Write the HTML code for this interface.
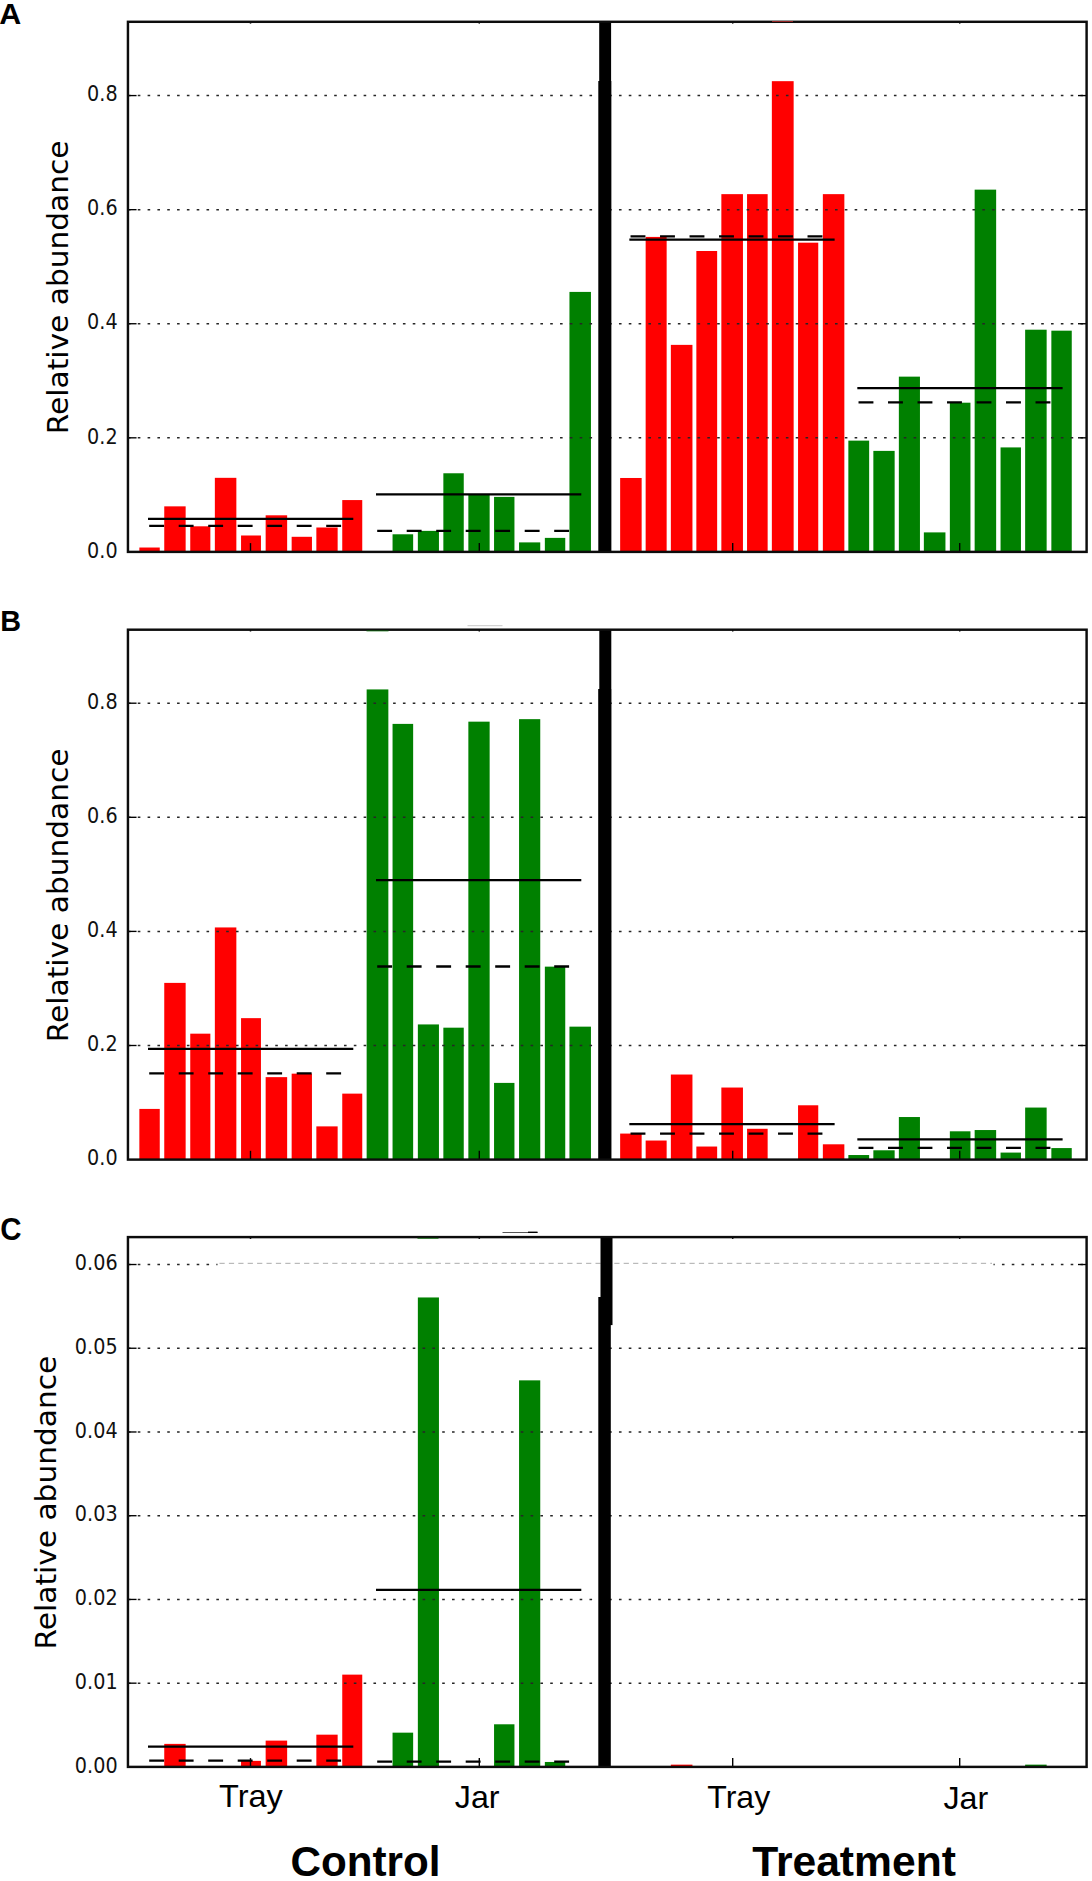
<!DOCTYPE html>
<html lang="en"><head><meta charset="utf-8"><title>Relative abundance: Control vs Treatment</title>
<style>
html,body{margin:0;padding:0;background:#fff}
body{width:1092px;height:1881px;overflow:hidden}
svg{display:block}
.tk{font-family:"DejaVu Sans","Liberation Sans",sans-serif;font-size:19.2px;fill:#111}
.yl{font-family:"DejaVu Sans","Liberation Sans",sans-serif;font-size:28.9px;fill:#000}
.pl{font-family:"Liberation Sans",Arial,sans-serif;font-weight:bold;font-size:28.8px;fill:#000}
.xl{font-family:"Liberation Sans",Arial,sans-serif;font-size:30.7px;fill:#000}
.gl{font-family:"Liberation Sans",Arial,sans-serif;font-weight:bold;font-size:42px;fill:#000}
</style></head><body>
<svg width="1092" height="1881" viewBox="0 0 1092 1881">
<rect width="1092" height="1881" fill="#fff"/>
<g>
<rect x="139.35" y="547.52" width="20.40" height="4.38" fill="#ff0000"/>
<rect x="164.25" y="506.35" width="21.40" height="45.55" fill="#ff0000"/>
<rect x="190.25" y="526.31" width="20.10" height="25.59" fill="#ff0000"/>
<rect x="214.85" y="477.83" width="21.50" height="74.07" fill="#ff0000"/>
<rect x="241.05" y="535.49" width="19.90" height="16.41" fill="#ff0000"/>
<rect x="265.65" y="515.30" width="21.50" height="36.60" fill="#ff0000"/>
<rect x="291.65" y="536.80" width="20.30" height="15.10" fill="#ff0000"/>
<rect x="316.35" y="527.50" width="21.30" height="24.40" fill="#ff0000"/>
<rect x="342.25" y="500.07" width="20.00" height="51.83" fill="#ff0000"/>
<rect x="392.55" y="534.29" width="20.60" height="17.61" fill="#008000"/>
<rect x="417.85" y="530.87" width="21.10" height="21.03" fill="#008000"/>
<rect x="443.35" y="473.27" width="20.40" height="78.63" fill="#008000"/>
<rect x="468.35" y="494.37" width="21.30" height="57.53" fill="#008000"/>
<rect x="494.05" y="496.88" width="20.40" height="55.02" fill="#008000"/>
<rect x="519.05" y="542.39" width="21.20" height="9.51" fill="#008000"/>
<rect x="544.85" y="537.88" width="20.40" height="14.02" fill="#008000"/>
<rect x="569.45" y="291.91" width="21.50" height="259.99" fill="#008000"/>
<rect x="620.15" y="477.98" width="21.50" height="73.92" fill="#ff0000"/>
<rect x="645.65" y="236.92" width="21.00" height="314.98" fill="#ff0000"/>
<rect x="670.85" y="344.87" width="21.60" height="207.03" fill="#ff0000"/>
<rect x="696.35" y="251.00" width="20.80" height="300.90" fill="#ff0000"/>
<rect x="721.35" y="194.14" width="21.60" height="357.76" fill="#ff0000"/>
<rect x="747.05" y="194.14" width="20.60" height="357.76" fill="#ff0000"/>
<rect x="771.85" y="81.17" width="21.80" height="470.73" fill="#ff0000"/>
<rect x="798.05" y="242.68" width="20.20" height="309.22" fill="#ff0000"/>
<rect x="822.85" y="194.14" width="21.50" height="357.76" fill="#ff0000"/>
<rect x="848.35" y="440.63" width="20.80" height="111.27" fill="#008000"/>
<rect x="873.35" y="450.89" width="21.30" height="101.01" fill="#008000"/>
<rect x="898.85" y="376.64" width="21.10" height="175.26" fill="#008000"/>
<rect x="923.85" y="532.39" width="21.60" height="19.51" fill="#008000"/>
<rect x="949.85" y="402.70" width="20.60" height="149.20" fill="#008000"/>
<rect x="974.65" y="189.64" width="21.50" height="362.26" fill="#008000"/>
<rect x="1000.55" y="447.41" width="20.40" height="104.49" fill="#008000"/>
<rect x="1025.15" y="329.70" width="21.50" height="222.20" fill="#008000"/>
<rect x="1051.35" y="330.67" width="20.40" height="221.23" fill="#008000"/>
<line x1="148.00" y1="518.87" x2="353.30" y2="518.87" stroke="#000" stroke-width="2.35"/>
<line x1="149.20" y1="525.89" x2="353.30" y2="525.89" stroke="#000" stroke-width="2.35" stroke-dasharray="14.9 14.6"/>
<line x1="376.00" y1="494.41" x2="581.30" y2="494.41" stroke="#000" stroke-width="2.35"/>
<line x1="377.20" y1="530.91" x2="581.30" y2="530.91" stroke="#000" stroke-width="2.35" stroke-dasharray="14.9 14.6"/>
<line x1="629.33" y1="239.65" x2="834.63" y2="239.65" stroke="#000" stroke-width="2.35"/>
<line x1="630.53" y1="236.40" x2="834.63" y2="236.40" stroke="#000" stroke-width="2.35" stroke-dasharray="14.9 14.6"/>
<line x1="857.32" y1="388.16" x2="1062.62" y2="388.16" stroke="#000" stroke-width="2.35"/>
<line x1="858.52" y1="402.42" x2="1062.62" y2="402.42" stroke="#000" stroke-width="2.35" stroke-dasharray="14.9 14.6"/>
<line x1="127.95" y1="437.82" x2="1086.6" y2="437.82" stroke="#262626" stroke-width="1.5" stroke-dasharray="2.6 7.22"/>
<line x1="127.95" y1="323.74" x2="1086.6" y2="323.74" stroke="#262626" stroke-width="1.5" stroke-dasharray="2.6 7.22"/>
<line x1="127.95" y1="209.66" x2="1086.6" y2="209.66" stroke="#262626" stroke-width="1.5" stroke-dasharray="2.6 7.22"/>
<line x1="127.95" y1="95.58" x2="1086.6" y2="95.58" stroke="#262626" stroke-width="1.5" stroke-dasharray="2.6 7.22"/>
<rect x="599.2" y="21.8" width="11.9" height="530.10" fill="#000"/>
<rect x="598.3" y="81" width="13" height="470.90" fill="#000"/>
<line x1="127.95" y1="437.82" x2="136.55" y2="437.82" stroke="#000" stroke-width="1.35"/>
<line x1="1086.6" y1="437.82" x2="1078.0" y2="437.82" stroke="#000" stroke-width="1.35"/>
<line x1="127.95" y1="323.74" x2="136.55" y2="323.74" stroke="#000" stroke-width="1.35"/>
<line x1="1086.6" y1="323.74" x2="1078.0" y2="323.74" stroke="#000" stroke-width="1.35"/>
<line x1="127.95" y1="209.66" x2="136.55" y2="209.66" stroke="#000" stroke-width="1.35"/>
<line x1="1086.6" y1="209.66" x2="1078.0" y2="209.66" stroke="#000" stroke-width="1.35"/>
<line x1="127.95" y1="95.58" x2="136.55" y2="95.58" stroke="#000" stroke-width="1.35"/>
<line x1="1086.6" y1="95.58" x2="1078.0" y2="95.58" stroke="#000" stroke-width="1.35"/>
<line x1="250.5" y1="551.9" x2="250.5" y2="543.1" stroke="#000" stroke-width="1.4"/>
<line x1="250.5" y1="21.8" x2="250.5" y2="23.6" stroke="#000" stroke-width="1.5"/>
<line x1="479.3" y1="551.9" x2="479.3" y2="543.1" stroke="#000" stroke-width="1.4"/>
<line x1="479.3" y1="21.8" x2="479.3" y2="23.6" stroke="#000" stroke-width="1.5"/>
<line x1="732.7" y1="551.9" x2="732.7" y2="543.1" stroke="#000" stroke-width="1.4"/>
<line x1="732.7" y1="21.8" x2="732.7" y2="23.6" stroke="#000" stroke-width="1.5"/>
<line x1="959.7" y1="551.9" x2="959.7" y2="543.1" stroke="#000" stroke-width="1.4"/>
<line x1="959.7" y1="21.8" x2="959.7" y2="23.6" stroke="#000" stroke-width="1.5"/>
<rect x="127.95" y="21.8" width="958.6499999999999" height="530.10" fill="none" stroke="#0c0c0c" stroke-width="2.45"/>
<text transform="translate(117.6,549.60) scale(1,1.15)" x="0" y="7.0" text-anchor="end" class="tk">0.0</text>
<text transform="translate(117.6,435.52) scale(1,1.15)" x="0" y="7.0" text-anchor="end" class="tk">0.2</text>
<text transform="translate(117.6,321.44) scale(1,1.15)" x="0" y="7.0" text-anchor="end" class="tk">0.4</text>
<text transform="translate(117.6,207.36) scale(1,1.15)" x="0" y="7.0" text-anchor="end" class="tk">0.6</text>
<text transform="translate(117.6,93.28) scale(1,1.15)" x="0" y="7.0" text-anchor="end" class="tk">0.8</text>
<text transform="translate(68.3,287.3) rotate(-90) scale(1.026,1)" text-anchor="middle" class="yl">Relative abundance</text>
<text transform="translate(-0.8,23.9) scale(1.057,1.027)" class="pl">A</text>
</g>
<g>
<rect x="139.35" y="1108.92" width="20.40" height="50.68" fill="#ff0000"/>
<rect x="164.25" y="982.89" width="21.40" height="176.71" fill="#ff0000"/>
<rect x="190.25" y="1033.67" width="20.10" height="125.93" fill="#ff0000"/>
<rect x="214.85" y="927.44" width="21.50" height="232.16" fill="#ff0000"/>
<rect x="241.05" y="1018.15" width="19.90" height="141.45" fill="#ff0000"/>
<rect x="265.65" y="1077.14" width="21.50" height="82.46" fill="#ff0000"/>
<rect x="291.65" y="1073.66" width="20.30" height="85.94" fill="#ff0000"/>
<rect x="316.35" y="1126.38" width="21.30" height="33.22" fill="#ff0000"/>
<rect x="342.25" y="1093.63" width="20.00" height="65.97" fill="#ff0000"/>
<rect x="366.65" y="689.43" width="21.70" height="470.17" fill="#008000"/>
<rect x="392.55" y="723.89" width="20.60" height="435.71" fill="#008000"/>
<rect x="417.85" y="1024.43" width="21.10" height="135.17" fill="#008000"/>
<rect x="443.35" y="1027.68" width="20.40" height="131.92" fill="#008000"/>
<rect x="468.35" y="721.66" width="21.30" height="437.94" fill="#008000"/>
<rect x="494.05" y="1082.90" width="20.40" height="76.70" fill="#008000"/>
<rect x="519.05" y="719.15" width="21.20" height="440.45" fill="#008000"/>
<rect x="544.85" y="966.64" width="20.40" height="192.96" fill="#008000"/>
<rect x="569.45" y="1026.65" width="21.50" height="132.95" fill="#008000"/>
<rect x="620.15" y="1133.58" width="21.50" height="26.02" fill="#ff0000"/>
<rect x="645.65" y="1140.54" width="21.00" height="19.06" fill="#ff0000"/>
<rect x="670.85" y="1074.53" width="21.60" height="85.07" fill="#ff0000"/>
<rect x="696.35" y="1146.53" width="20.80" height="13.07" fill="#ff0000"/>
<rect x="721.35" y="1087.54" width="21.60" height="72.06" fill="#ff0000"/>
<rect x="747.05" y="1128.79" width="20.60" height="30.81" fill="#ff0000"/>
<rect x="798.05" y="1105.28" width="20.20" height="54.32" fill="#ff0000"/>
<rect x="822.85" y="1144.30" width="21.50" height="15.30" fill="#ff0000"/>
<rect x="848.35" y="1155.03" width="20.80" height="4.57" fill="#008000"/>
<rect x="873.35" y="1150.29" width="21.30" height="9.31" fill="#008000"/>
<rect x="898.85" y="1117.03" width="21.10" height="42.57" fill="#008000"/>
<rect x="949.85" y="1131.30" width="20.60" height="28.30" fill="#008000"/>
<rect x="974.65" y="1130.04" width="21.50" height="29.56" fill="#008000"/>
<rect x="1000.55" y="1152.58" width="20.40" height="7.02" fill="#008000"/>
<rect x="1025.15" y="1107.56" width="21.50" height="52.04" fill="#008000"/>
<rect x="1051.35" y="1148.07" width="20.40" height="11.53" fill="#008000"/>
<line x1="148.00" y1="1048.90" x2="353.30" y2="1048.90" stroke="#000" stroke-width="2.35"/>
<line x1="149.20" y1="1073.38" x2="353.30" y2="1073.38" stroke="#000" stroke-width="2.35" stroke-dasharray="14.9 14.6"/>
<line x1="376.00" y1="880.15" x2="581.30" y2="880.15" stroke="#000" stroke-width="2.35"/>
<line x1="377.20" y1="966.52" x2="581.30" y2="966.52" stroke="#000" stroke-width="2.35" stroke-dasharray="14.9 14.6"/>
<line x1="629.33" y1="1124.15" x2="834.63" y2="1124.15" stroke="#000" stroke-width="2.35"/>
<line x1="630.53" y1="1133.68" x2="834.63" y2="1133.68" stroke="#000" stroke-width="2.35" stroke-dasharray="14.9 14.6"/>
<line x1="857.32" y1="1139.38" x2="1062.62" y2="1139.38" stroke="#000" stroke-width="2.35"/>
<line x1="858.52" y1="1147.94" x2="1062.62" y2="1147.94" stroke="#000" stroke-width="2.35" stroke-dasharray="14.9 14.6"/>
<line x1="127.95" y1="1045.50" x2="1086.6" y2="1045.50" stroke="#262626" stroke-width="1.5" stroke-dasharray="2.6 7.22"/>
<line x1="127.95" y1="931.40" x2="1086.6" y2="931.40" stroke="#262626" stroke-width="1.5" stroke-dasharray="2.6 7.22"/>
<line x1="127.95" y1="817.30" x2="1086.6" y2="817.30" stroke="#262626" stroke-width="1.5" stroke-dasharray="2.6 7.22"/>
<line x1="127.95" y1="703.20" x2="1086.6" y2="703.20" stroke="#262626" stroke-width="1.5" stroke-dasharray="2.6 7.22"/>
<rect x="599.3" y="629.7" width="12" height="529.90" fill="#000"/>
<rect x="598.2" y="689" width="13" height="470.60" fill="#000"/>
<line x1="127.95" y1="1045.50" x2="136.55" y2="1045.50" stroke="#000" stroke-width="1.35"/>
<line x1="1086.6" y1="1045.50" x2="1078.0" y2="1045.50" stroke="#000" stroke-width="1.35"/>
<line x1="127.95" y1="931.40" x2="136.55" y2="931.40" stroke="#000" stroke-width="1.35"/>
<line x1="1086.6" y1="931.40" x2="1078.0" y2="931.40" stroke="#000" stroke-width="1.35"/>
<line x1="127.95" y1="817.30" x2="136.55" y2="817.30" stroke="#000" stroke-width="1.35"/>
<line x1="1086.6" y1="817.30" x2="1078.0" y2="817.30" stroke="#000" stroke-width="1.35"/>
<line x1="127.95" y1="703.20" x2="136.55" y2="703.20" stroke="#000" stroke-width="1.35"/>
<line x1="1086.6" y1="703.20" x2="1078.0" y2="703.20" stroke="#000" stroke-width="1.35"/>
<line x1="250.5" y1="1159.6" x2="250.5" y2="1150.8" stroke="#000" stroke-width="1.4"/>
<line x1="250.5" y1="629.7" x2="250.5" y2="631.5" stroke="#000" stroke-width="1.5"/>
<line x1="479.3" y1="1159.6" x2="479.3" y2="1150.8" stroke="#000" stroke-width="1.4"/>
<line x1="479.3" y1="629.7" x2="479.3" y2="631.5" stroke="#000" stroke-width="1.5"/>
<line x1="732.7" y1="1159.6" x2="732.7" y2="1150.8" stroke="#000" stroke-width="1.4"/>
<line x1="732.7" y1="629.7" x2="732.7" y2="631.5" stroke="#000" stroke-width="1.5"/>
<line x1="959.7" y1="1159.6" x2="959.7" y2="1150.8" stroke="#000" stroke-width="1.4"/>
<line x1="959.7" y1="629.7" x2="959.7" y2="631.5" stroke="#000" stroke-width="1.5"/>
<rect x="127.95" y="629.7" width="958.6499999999999" height="529.90" fill="none" stroke="#0c0c0c" stroke-width="2.45"/>
<text transform="translate(117.6,1157.30) scale(1,1.15)" x="0" y="7.0" text-anchor="end" class="tk">0.0</text>
<text transform="translate(117.6,1043.20) scale(1,1.15)" x="0" y="7.0" text-anchor="end" class="tk">0.2</text>
<text transform="translate(117.6,929.10) scale(1,1.15)" x="0" y="7.0" text-anchor="end" class="tk">0.4</text>
<text transform="translate(117.6,815.00) scale(1,1.15)" x="0" y="7.0" text-anchor="end" class="tk">0.6</text>
<text transform="translate(117.6,700.90) scale(1,1.15)" x="0" y="7.0" text-anchor="end" class="tk">0.8</text>
<text transform="translate(68.3,895.3) rotate(-90) scale(1.026,1)" text-anchor="middle" class="yl">Relative abundance</text>
<text transform="translate(0.15,631.0) scale(1.0,1.035)" class="pl">B</text>
</g>
<g>
<rect x="164.25" y="1743.88" width="21.40" height="23.02" fill="#ff0000"/>
<rect x="241.05" y="1760.88" width="19.90" height="6.02" fill="#ff0000"/>
<rect x="265.65" y="1740.61" width="21.50" height="26.29" fill="#ff0000"/>
<rect x="316.35" y="1734.67" width="21.30" height="32.23" fill="#ff0000"/>
<rect x="342.25" y="1674.63" width="20.00" height="92.27" fill="#ff0000"/>
<rect x="392.55" y="1732.66" width="20.60" height="34.24" fill="#008000"/>
<rect x="417.85" y="1297.46" width="21.10" height="469.44" fill="#008000"/>
<rect x="494.05" y="1724.29" width="20.40" height="42.62" fill="#008000"/>
<rect x="519.05" y="1380.35" width="21.20" height="386.55" fill="#008000"/>
<rect x="544.85" y="1761.96" width="20.40" height="4.94" fill="#008000"/>
<rect x="670.85" y="1764.64" width="21.60" height="2.26" fill="#ff0000"/>
<rect x="1025.15" y="1764.64" width="21.50" height="2.26" fill="#008000"/>
<line x1="148.00" y1="1746.59" x2="353.30" y2="1746.59" stroke="#000" stroke-width="2.35"/>
<line x1="149.20" y1="1760.57" x2="353.30" y2="1760.57" stroke="#000" stroke-width="2.35" stroke-dasharray="14.9 14.6"/>
<line x1="376.00" y1="1589.93" x2="581.30" y2="1589.93" stroke="#000" stroke-width="2.35"/>
<line x1="377.20" y1="1761.66" x2="581.30" y2="1761.66" stroke="#000" stroke-width="2.35" stroke-dasharray="14.9 14.6"/>
<line x1="127.95" y1="1683.17" x2="1086.6" y2="1683.17" stroke="#262626" stroke-width="1.5" stroke-dasharray="2.6 7.22"/>
<line x1="127.95" y1="1599.44" x2="1086.6" y2="1599.44" stroke="#262626" stroke-width="1.5" stroke-dasharray="2.6 7.22"/>
<line x1="127.95" y1="1515.71" x2="1086.6" y2="1515.71" stroke="#262626" stroke-width="1.5" stroke-dasharray="2.6 7.22"/>
<line x1="127.95" y1="1431.98" x2="1086.6" y2="1431.98" stroke="#262626" stroke-width="1.5" stroke-dasharray="2.6 7.22"/>
<line x1="127.95" y1="1348.25" x2="1086.6" y2="1348.25" stroke="#262626" stroke-width="1.5" stroke-dasharray="2.6 7.22"/>
<line x1="127.95" y1="1264.52" x2="1086.6" y2="1264.52" stroke="#262626" stroke-width="1.5" stroke-dasharray="2.6 7.22"/>
<rect x="217.5" y="1262.52" width="776" height="4" fill="#fff"/>
<line x1="219.5" y1="1263.32" x2="992" y2="1263.32" stroke="#a0a0a0" stroke-width="0.9" stroke-dasharray="5.2 4.2"/>
<rect x="600.5" y="1237.1" width="12" height="88" fill="#000"/>
<rect x="598.3" y="1297" width="12.5" height="469.90" fill="#000"/>
<line x1="127.95" y1="1683.17" x2="136.55" y2="1683.17" stroke="#000" stroke-width="1.35"/>
<line x1="1086.6" y1="1683.17" x2="1078.0" y2="1683.17" stroke="#000" stroke-width="1.35"/>
<line x1="127.95" y1="1599.44" x2="136.55" y2="1599.44" stroke="#000" stroke-width="1.35"/>
<line x1="1086.6" y1="1599.44" x2="1078.0" y2="1599.44" stroke="#000" stroke-width="1.35"/>
<line x1="127.95" y1="1515.71" x2="136.55" y2="1515.71" stroke="#000" stroke-width="1.35"/>
<line x1="1086.6" y1="1515.71" x2="1078.0" y2="1515.71" stroke="#000" stroke-width="1.35"/>
<line x1="127.95" y1="1431.98" x2="136.55" y2="1431.98" stroke="#000" stroke-width="1.35"/>
<line x1="1086.6" y1="1431.98" x2="1078.0" y2="1431.98" stroke="#000" stroke-width="1.35"/>
<line x1="127.95" y1="1348.25" x2="136.55" y2="1348.25" stroke="#000" stroke-width="1.35"/>
<line x1="1086.6" y1="1348.25" x2="1078.0" y2="1348.25" stroke="#000" stroke-width="1.35"/>
<line x1="127.95" y1="1264.52" x2="136.55" y2="1264.52" stroke="#000" stroke-width="1.35"/>
<line x1="1086.6" y1="1264.52" x2="1078.0" y2="1264.52" stroke="#000" stroke-width="1.35"/>
<line x1="250.5" y1="1766.9" x2="250.5" y2="1758.1000000000001" stroke="#000" stroke-width="1.4"/>
<line x1="250.5" y1="1237.1" x2="250.5" y2="1238.8999999999999" stroke="#000" stroke-width="1.5"/>
<line x1="479.3" y1="1766.9" x2="479.3" y2="1758.1000000000001" stroke="#000" stroke-width="1.4"/>
<line x1="479.3" y1="1237.1" x2="479.3" y2="1238.8999999999999" stroke="#000" stroke-width="1.5"/>
<line x1="732.7" y1="1766.9" x2="732.7" y2="1758.1000000000001" stroke="#000" stroke-width="1.4"/>
<line x1="732.7" y1="1237.1" x2="732.7" y2="1238.8999999999999" stroke="#000" stroke-width="1.5"/>
<line x1="959.7" y1="1766.9" x2="959.7" y2="1758.1000000000001" stroke="#000" stroke-width="1.4"/>
<line x1="959.7" y1="1237.1" x2="959.7" y2="1238.8999999999999" stroke="#000" stroke-width="1.5"/>
<rect x="127.95" y="1237.1" width="958.6499999999999" height="529.80" fill="none" stroke="#0c0c0c" stroke-width="2.45"/>
<text transform="translate(117.6,1764.60) scale(1,1.15)" x="0" y="7.0" text-anchor="end" class="tk">0.00</text>
<text transform="translate(117.6,1680.87) scale(1,1.15)" x="0" y="7.0" text-anchor="end" class="tk">0.01</text>
<text transform="translate(117.6,1597.14) scale(1,1.15)" x="0" y="7.0" text-anchor="end" class="tk">0.02</text>
<text transform="translate(117.6,1513.41) scale(1,1.15)" x="0" y="7.0" text-anchor="end" class="tk">0.03</text>
<text transform="translate(117.6,1429.68) scale(1,1.15)" x="0" y="7.0" text-anchor="end" class="tk">0.04</text>
<text transform="translate(117.6,1345.95) scale(1,1.15)" x="0" y="7.0" text-anchor="end" class="tk">0.05</text>
<text transform="translate(117.6,1262.22) scale(1,1.15)" x="0" y="7.0" text-anchor="end" class="tk">0.06</text>
<text transform="translate(56.4,1502.6) rotate(-90) scale(1.026,1)" text-anchor="middle" class="yl">Relative abundance</text>
<text transform="translate(0.35,1240.1499999999999) scale(1.023,1.085)" class="pl">C</text>
</g>
<rect x="772" y="21" width="21" height="1" fill="#e33" opacity="0.6"/>
<rect x="467.5" y="625.2" width="35" height="1" fill="#c8c8c8"/>
<rect x="366.5" y="630.4" width="22" height="1" fill="#060" opacity="0.8"/>
<rect x="502.5" y="1232" width="35" height="1" fill="#555"/>
<rect x="528" y="1231.6" width="9.5" height="1.4" fill="#000"/>
<rect x="417.5" y="1237.8" width="21" height="1" fill="#060" opacity="0.8"/>
<text transform="translate(219.0,1807.3) scale(1.06,1)" class="xl">Tray</text>
<text transform="translate(454.8,1807.5) scale(1.05,1)" class="xl">Jar</text>
<text transform="translate(707.3,1807.6) scale(1.045,1)" class="xl">Tray</text>
<text transform="translate(943.4,1808.8) scale(1.05,1)" class="xl">Jar</text>
<text transform="translate(290.5,1876.3) scale(1.005,1)" class="gl">Control</text>
<text transform="translate(752.2,1876.3) scale(1.015,1)" class="gl">Treatment</text>
</svg>
</body></html>
